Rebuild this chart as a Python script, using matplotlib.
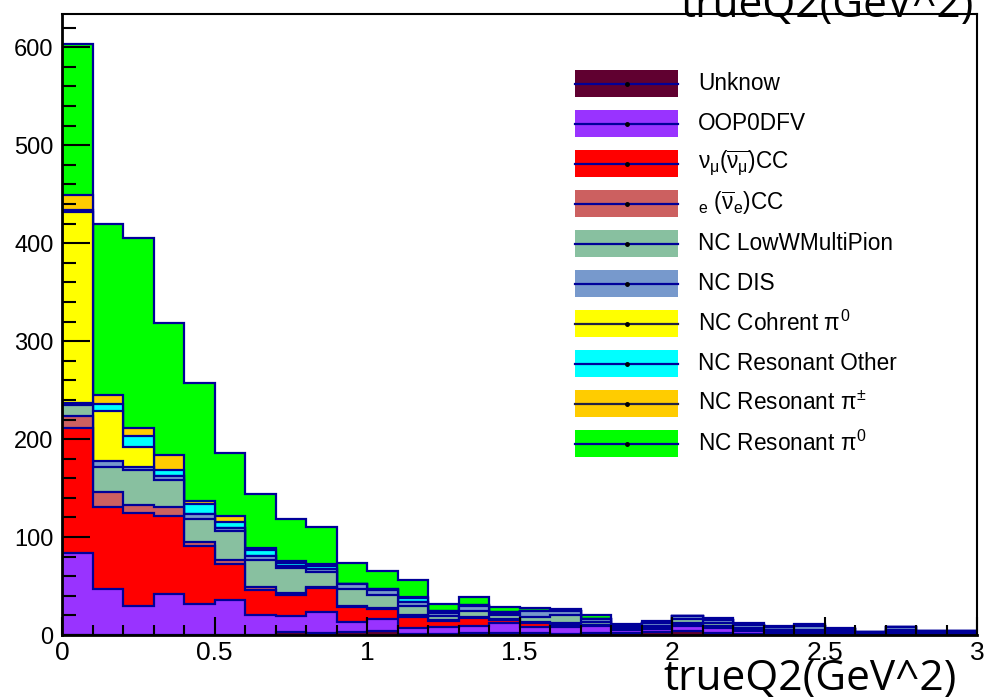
import matplotlib
matplotlib.use('Agg')
import matplotlib.pyplot as plt
import numpy as np
from matplotlib.patches import Rectangle
from matplotlib.ticker import MultipleLocator, FuncFormatter
from matplotlib.transforms import Bbox, TransformedBbox

# bin edges of trueQ2, 30 bins of 0.1 GeV^2
edges = np.linspace(0, 3, 31)

# stacked components, bottom to top
unknow = [0, 0, 0, 0, 0, 0, 0, 3, 2, 3, 4, 1, 1, 2, 2, 2, 1, 2, 2, 3, 4, 2, 1, 1, 1, 1, 1, 1, 1, 1]
oop0dfv = [84, 47, 30, 42, 32, 36, 20, 16, 21, 10, 12, 6, 7, 7, 10, 6, 7, 7, 3, 3, 5, 5, 3, 2, 2, 1, 1, 2, 1, 1]
numu_cc = [127, 84, 95, 79, 59, 36, 26, 22, 25, 16, 11, 11, 6, 8, 3, 4, 2, 1, 1, 1, 2, 1, 1, 2, 0, 0, 0, 0, 0, 0]
nue_cc = [13, 15, 8, 10, 4, 5, 3, 2, 1, 1, 1, 2, 1, 1, 1, 1, 2, 0, 0, 1, 1, 1, 0, 0, 0, 0, 0, 1, 0, 0]
nc_loww = [11, 26, 35, 27, 23, 29, 28, 25, 15, 17, 13, 10, 4, 7, 4, 5, 8, 3, 1, 1, 4, 3, 2, 0, 2, 2, 0, 1, 0, 0]
nc_dis = [2, 6, 4, 4, 6, 3, 4, 2, 3, 5, 5, 4, 3, 5, 2, 7, 5, 3, 2, 3, 3, 3, 3, 3, 4, 2, 1, 3, 2, 2]
nc_coh = [195, 51, 20, 0, 0, 0, 0, 0, 0, 0, 0, 0, 0, 0, 0, 0, 0, 0, 0, 0, 0, 0, 0, 0, 0, 0, 0, 0, 0, 0]
nc_res_other = [2, 7, 11, 6, 10, 6, 6, 4, 3, 0, 1, 4, 2, 1, 1, 0, 0, 0, 0, 0, 0, 0, 0, 0, 0, 0, 0, 0, 0, 0]
nc_res_pipm = [15, 9, 8, 16, 3, 7, 2, 2, 2, 0, 0, 1, 0, 0, 0, 0, 0, 0, 0, 0, 0, 0, 0, 0, 0, 0, 0, 0, 0, 0]
nc_res_pi0 = [154, 175, 194, 135, 120, 64, 55, 42, 38, 22, 18, 17, 8, 8, 6, 3, 2, 4, 2, 2, 0, 2, 2, 1, 2, 1, 0, 0, 0, 0]

series = [unknow, oop0dfv, numu_cc, nue_cc, nc_loww, nc_dis, nc_coh, nc_res_other, nc_res_pipm, nc_res_pi0]
labels = ['Unknow', 'OOP0DFV', r'$\nu_{\mu}(\overline{\nu_{\mu}})$CC', r'$_{e}$ $(\overline{\nu}_{e})$CC',
          'NC LowWMultiPion', 'NC DIS', r'NC Cohrent $\pi^{0}$', 'NC Resonant Others',
          r'NC Resonant $\pi^{\pm}$', r'NC Resonant $\pi^{0}$']
colors = ['#600030', '#9933ff', '#ff0000', '#cc6060', '#88c0a0', '#7799cc',
          '#ffff00', '#00ffff', '#ffcc00', '#00ff00']
edge = '#000099'

plt.rcParams['font.family'] = ['Liberation Sans', 'DejaVu Sans']
plt.rcParams['mathtext.fontset'] = 'custom'
plt.rcParams['mathtext.rm'] = 'Liberation Sans'
plt.rcParams['mathtext.it'] = 'Liberation Sans'

fig = plt.figure(figsize=(9.84, 6.98), dpi=100)
ax = fig.add_axes([62/984, 1-635/698, 915/984, 621/698])

cum = np.cumsum(np.array(series, dtype=float), axis=0)
# ROOT style stack: draw cumulative histos from the top down
for k in range(len(series)-1, -1, -1):
    ax.stairs(cum[k], edges, baseline=0, fill=True, facecolor=colors[k],
              edgecolor=edge, linewidth=1.6)

ax.set_xlim(0, 3)
ax.set_ylim(0, 634)

ax.xaxis.set_major_locator(MultipleLocator(0.5))
ax.xaxis.set_minor_locator(MultipleLocator(0.1))
ax.yaxis.set_major_locator(MultipleLocator(100))
ax.yaxis.set_minor_locator(MultipleLocator(20))
ax.xaxis.set_major_formatter(FuncFormatter(lambda v, p: f'{v:g}'))
ax.tick_params(which='both', top=False, right=False)
ax.tick_params(axis='y', which='major', direction='in', length=20, width=1.5, labelsize=17, pad=6)
ax.tick_params(axis='y', which='minor', direction='in', length=10, width=1.5)
ax.tick_params(axis='x', which='major', direction='in', length=13, width=1.5, labelsize=19, pad=4)
ax.tick_params(axis='x', which='minor', direction='in', length=7, width=1.5)
for s in ax.spines.values():
    s.set_linewidth(1.5)
ax.spines['left'].set_linewidth(2)
ax.spines['bottom'].set_linewidth(2)

# legend by hand, in axes fraction
lx0 = (575-62)/915
lx1 = (678-62)/915
tx = (698-62)/915
h = 27/621
for i in range(len(labels)):
    yc = (635 - (83.5 + 40*i)) / 621
    ax.add_patch(Rectangle((lx0, yc-h/2), lx1-lx0, h, transform=ax.transAxes,
                           facecolor=colors[i], edgecolor='none', zorder=5))
    lc = '#222244' if colors[i] in ('#ffff00', '#ffcc00') else edge
    ax.plot([lx0, lx1], [yc, yc], transform=ax.transAxes, color=lc, lw=1.6, zorder=6)
    ax.plot([(lx0+lx1)/2], [yc], transform=ax.transAxes, marker='o', ms=2.5, color='black', zorder=7)
    t = ax.text(tx, yc, labels[i], transform=ax.transAxes, fontsize=16.3, va='center', ha='left', zorder=6)
    t.set_clip_box(TransformedBbox(Bbox([[0, 0], [(897-62)/915, 1]]), ax.transAxes))
    t.set_clip_on(True)

fig.text(974/984, 1-17/698, 'trueQ2(GeV^2)', fontsize=30.5, family='Open Sans',
         ha='right', va='baseline')
fig.text(957/984, 1-690/698, 'trueQ2(GeV^2)', fontsize=30.5, family='Open Sans',
         ha='right', va='baseline')

fig.savefig('out.png', dpi=100)
